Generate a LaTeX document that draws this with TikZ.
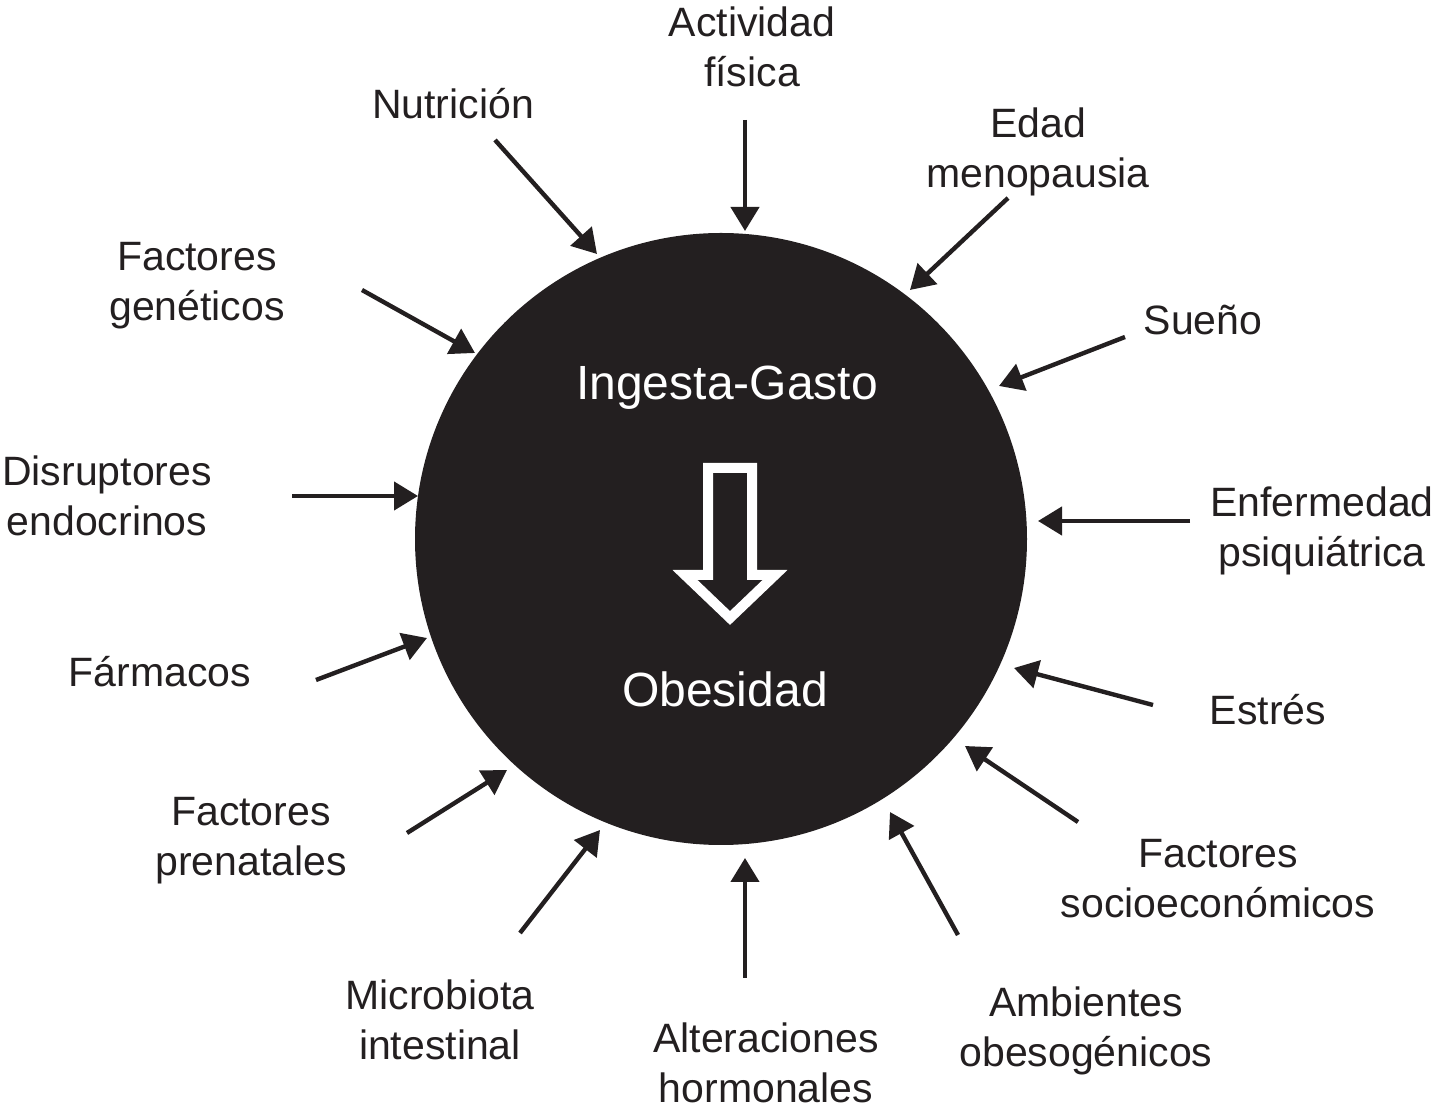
\documentclass[tikz,border=0pt]{standalone}
\usepackage{fontspec}
\setmainfont{Liberation Sans}
\usetikzlibrary{arrows.meta}
\definecolor{ink}{HTML}{231F20}
\begin{document}
\begin{tikzpicture}[x=0.5pt,y=-0.5pt,
  lbl/.style={font=\fontsize{20.5}{25}\selectfont, text=ink, align=center, anchor=base, inner sep=0pt},
  inlbl/.style={font=\fontsize{24}{28}\selectfont, text=white, anchor=base, inner sep=0pt},
  arr/.style={draw=ink, line width=2.2pt, -{Triangle[length=12pt,width=14pt]}}]
\useasboundingbox (0,0) rectangle (1437,1111);
% central circle
\node[circle, fill=ink, minimum size=306pt, inner sep=0pt] (core) at (721,539) {};
\node[inlbl] (ing) at (727,400) {Ingesta-Gasto};
\node[inlbl] (obe) at (725,707) {Obesidad};
\draw[white, line width=5pt, miter limit=10, line join=miter]
  (708,468) -- (752,468) -- (752,575) -- (775,575) -- (730,618) -- (685,575) -- (708,575) -- cycle;
% labels (base anchor = baseline of last line)
\node[lbl] (act) at (752,87) {Actividad\\física};
\node[lbl] (edad) at (1038,188) {Edad\\menopausia};
\node[lbl] (sue) at (1203,335) {Sueño};
\node[lbl] (enf) at (1322,567) {Enfermedad\\psiquiátrica};
\node[lbl] (est) at (1268,725) {Estrés};
\node[lbl] (soc) at (1218,918) {Factores\\socioeconómicos};
\node[lbl] (amb) at (1086,1067) {Ambientes\\obesogénicos};
\node[lbl] (alt) at (766,1103) {Alteraciones\\hormonales};
\node[lbl] (mic) at (440,1060) {Microbiota\\intestinal};
\node[lbl] (pre) at (251,876) {Factores\\prenatales};
\node[lbl] (far) at (160,687) {Fármacos};
\node[lbl] (dis) at (107,536) {Disruptores\\endocrinos};
\node[lbl] (gen) at (197,321) {Factores\\genéticos};
\node[lbl] (nut) at (453,119) {Nutrición};
% arrow end points
\coordinate (s1) at (745,120);  \coordinate (e1) at (745,231);
\coordinate (s2) at (1008,198); \coordinate (e2) at (910,290);
\coordinate (s3) at (1125,337); \coordinate (e3) at (999,386);
\coordinate (s4) at (1190,521); \coordinate (e4) at (1038,521);
\coordinate (s5) at (1153,705); \coordinate (e5) at (1014,668);
\coordinate (s6) at (1078,822); \coordinate (e6) at (965,746);
\coordinate (s7) at (958,935);  \coordinate (e7) at (890,812);
\coordinate (s8) at (745,978);  \coordinate (e8) at (745,858);
\coordinate (s9) at (520,933);  \coordinate (e9) at (600,830);
\coordinate (s10) at (407,833); \coordinate (e10) at (507,770);
\coordinate (s11) at (316,680); \coordinate (e11) at (427,638);
\coordinate (s12) at (292,496); \coordinate (e12) at (418,496);
\coordinate (s13) at (362,290); \coordinate (e13) at (475,353);
\coordinate (s14) at (495,140); \coordinate (e14) at (597,254);
\foreach \i in {1,...,14} { \draw[arr] (s\i) -- (e\i); }
\end{tikzpicture}
\end{document}
